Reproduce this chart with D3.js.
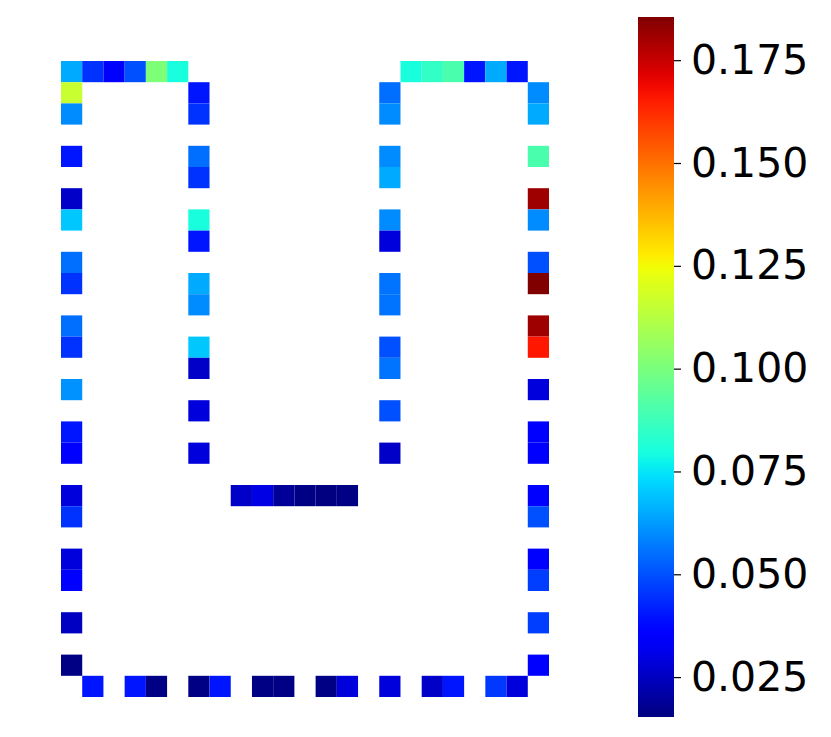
<!DOCTYPE html>
<html>
<head>
<meta charset="utf-8">
<script src="https://cdn.jsdelivr.net/npm/d3@7"></script>
<style>
  body { margin: 0; background: #fff; }
  svg { display: block; }
  .cbar text { font-family: "DejaVu Sans", sans-serif; font-size: 41px; fill: #000; }
</style>
</head>
<body>
<svg id="chart" width="831" height="737"></svg>
<script>
// grid is 23 columns x 30 rows, null = masked cell
const nCols = 23, nRows = 30

// top row (row 0)
const topLeftCols = [0, 1, 2, 3, 4, 5]
const topLeftVals = [0.065, 0.045, 0.035, 0.050, 0.101, 0.080]
const topRightCols = [16, 17, 18, 19, 20, 21]
const topRightVals = [0.080, 0.085, 0.090, 0.040, 0.065, 0.040]

// outer left column (col 0), rows 1..28
const col0Vals = [0.116, 0.060, null, 0.040, null, 0.026, 0.070, null, 0.055, 0.045,
  null, 0.055, 0.045, null, 0.061, null, 0.040, 0.035, null, 0.029,
  0.045, null, 0.029, 0.035, null, 0.025, null, 0.016]

// inner left column (col 6), rows 1..18
const col6Vals = [0.040, 0.045, null, 0.055, 0.045, null, 0.080, 0.040, null, 0.065,
  0.060, null, 0.070, 0.026, null, 0.029, null, 0.029]

// inner right column (col 15), rows 1..18
const col15Vals = [0.055, 0.060, null, 0.060, 0.065, null, 0.060, 0.029, null, 0.056,
  0.056, null, 0.050, 0.056, null, 0.050, null, 0.026]

// outer right column (col 22), rows 1..28
const col22Vals = [0.060, 0.065, null, 0.090, null, 0.181, 0.060, null, 0.050, 0.1855,
  null, 0.181, 0.166, null, 0.029, null, 0.035, 0.035, null, 0.035,
  0.050, null, 0.035, 0.047, null, 0.047, null, 0.035]

// middle bar (row 20), cols 8..13
const midVals = [0.026, 0.030, 0.019, 0.016, 0.0155, 0.016]

// bottom row (row 29), cols 1..21
const bottomVals = [0.040, null, 0.040, 0.016, null, 0.016, 0.040, null, 0.016, 0.016,
  null, 0.016, 0.029, null, 0.029, null, 0.026, 0.040, null, 0.046, 0.029]

const vmin = 0.0153, vmax = 0.1855
const cbarTicks = [0.025, 0.050, 0.075, 0.100, 0.125, 0.150, 0.175]

// build cell list
let cells = []
topLeftCols.forEach((c, i) => cells.push({ row: 0, col: c, v: topLeftVals[i] }))
topRightCols.forEach((c, i) => cells.push({ row: 0, col: c, v: topRightVals[i] }))
col0Vals.forEach((v, i) => cells.push({ row: i + 1, col: 0, v: v }))
col6Vals.forEach((v, i) => cells.push({ row: i + 1, col: 6, v: v }))
col15Vals.forEach((v, i) => cells.push({ row: i + 1, col: 15, v: v }))
col22Vals.forEach((v, i) => cells.push({ row: i + 1, col: 22, v: v }))
midVals.forEach((v, i) => cells.push({ row: 20, col: 8 + i, v: v }))
bottomVals.forEach((v, i) => cells.push({ row: 29, col: 1 + i, v: v }))
cells = cells.filter(d => d.v !== null)

// matplotlib jet colormap
function seg(pts, t) {
  for (let i = 1; i < pts.length; i++) {
    if (t <= pts[i][0]) {
      const [x0, y0] = pts[i - 1], [x1, y1] = pts[i]
      return y0 + (y1 - y0) * (t - x0) / (x1 - x0)
    }
  }
  return pts[pts.length - 1][1]
}
const jetR = [[0, 0], [0.35, 0], [0.66, 1], [0.89, 1], [1, 0.5]]
const jetG = [[0, 0], [0.125, 0], [0.375, 1], [0.64, 1], [0.91, 0], [1, 0]]
const jetB = [[0, 0.5], [0.11, 1], [0.34, 1], [0.65, 0], [1, 0]]
function interpolateJet(t) {
  t = Math.max(0, Math.min(1, t))
  return d3.rgb(255 * seg(jetR, t), 255 * seg(jetG, t), 255 * seg(jetB, t)).formatHex()
}

const color = d3.scaleSequential(interpolateJet).domain([vmin, vmax])

const svg = d3.select("#chart")

const x = d3.scaleBand().domain(d3.range(nCols)).range([61, 549])
const y = d3.scaleBand().domain(d3.range(nRows)).range([61, 697])

svg.append("g")
  .selectAll("rect")
  .data(cells)
  .join("rect")
  .attr("x", d => x(d.col))
  .attr("y", d => y(d.row))
  .attr("width", x.bandwidth())
  .attr("height", y.bandwidth())
  .attr("fill", d => color(d.v))

// colorbar
const cbX = 638, cbW = 36
const cbY = d3.scaleLinear().domain([vmin, vmax]).range([717, 17])

const defs = svg.append("defs")
const grad = defs.append("linearGradient")
  .attr("id", "jetgrad")
  .attr("x1", 0).attr("y1", 1).attr("x2", 0).attr("y2", 0)
grad.selectAll("stop")
  .data(d3.range(0, 1.0001, 0.02))
  .join("stop")
  .attr("offset", d => d)
  .attr("stop-color", d => interpolateJet(d))

svg.append("rect")
  .attr("x", cbX)
  .attr("y", cbY(vmax))
  .attr("width", cbW)
  .attr("height", cbY(vmin) - cbY(vmax))
  .attr("fill", "url(#jetgrad)")

const cbAxis = svg.append("g")
  .attr("class", "cbar")
  .attr("transform", "translate(" + (cbX + cbW) + ",0)")
  .call(d3.axisRight(cbY).tickValues(cbarTicks).tickFormat(d3.format(".3f")).tickSize(7).tickPadding(10))
cbAxis.select(".domain").remove()
cbAxis.selectAll(".tick line").attr("stroke", "#000").attr("stroke-width", 1.2)
cbAxis.attr("font-size", null).attr("font-family", null)
</script>
</body>
</html>
